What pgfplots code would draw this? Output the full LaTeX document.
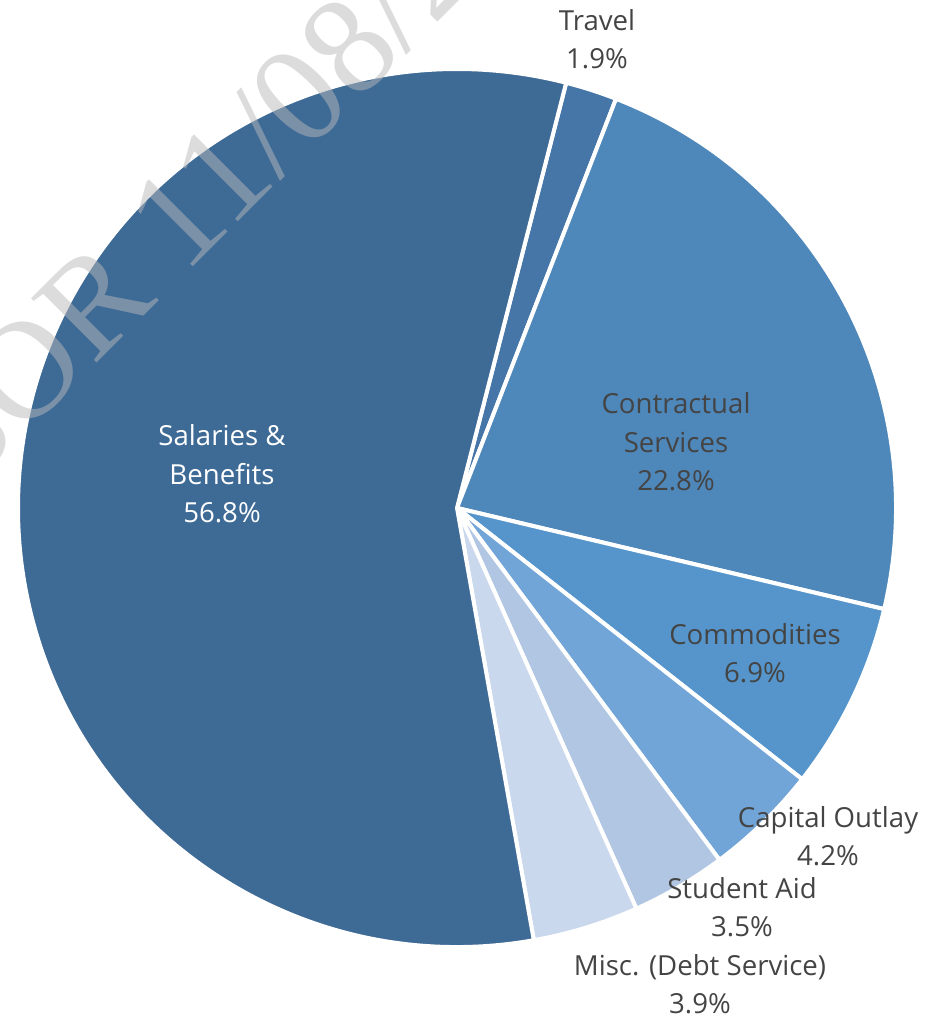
\documentclass[border=0pt]{standalone}
\usepackage{pgfplots}
\usepackage{pgfplotstable}
\pgfplotsset{compat=1.18}
\usepackage{fontspec}
\setmainfont{Open Sans}
\newfontfamily\wmfont{Liberation Serif}

\definecolor{cTravel}{HTML}{4676A7}
\definecolor{cContract}{HTML}{4E87BA}
\definecolor{cCommod}{HTML}{5595CB}
\definecolor{cCapital}{HTML}{72A5D7}
\definecolor{cStudent}{HTML}{B0C6E3}
\definecolor{cMisc}{HTML}{C9D8ED}
\definecolor{cSalary}{HTML}{3E6A96}
\definecolor{labelgray}{HTML}{444444}

% slices in clockwise order, starting from the Travel slice
\pgfplotstableread{
name      value color
Travel      1.9 cTravel
Contract   22.8 cContract
Commod      6.9 cCommod
Capital     4.2 cCapital
Student     3.5 cStudent
Misc        3.9 cMisc
Salaries   56.8 cSalary
}\piedata

\begin{document}
\begin{tikzpicture}
\useasboundingbox (0,0) rectangle (470pt,510.5pt);
\begin{axis}[
    at={(0,0)}, anchor=south west,
    width=470pt, height=510.5pt, scale only axis,
    xmin=0, xmax=940, ymin=0, ymax=1021,
    hide axis, clip=false,
]
\pgfplotsextra{
  \def\angstart{75.6}
  \pgfplotsforeachungrouped \i in {0,...,6}{
    \pgfplotstablegetelem{\i}{value}\of\piedata
    \let\val\pgfplotsretval
    \pgfplotstablegetelem{\i}{color}\of\piedata
    \let\col\pgfplotsretval
    \pgfmathsetmacro\angend{\angstart-3.6*\val}
    \fill[fill=\col, draw=white, line width=2pt, line join=round]
      (axis cs:457,513) -- ++(\angstart:219.5pt)
      arc[start angle=\angstart, end angle=\angend, radius=219.5pt] -- cycle;
    \global\let\angstart\angend
  }
}
\tikzset{lbl/.style={align=center, inner sep=0pt, text=labelgray,
  font=\fontsize{13.8}{19.25}\selectfont}}
\node[lbl] at (axis cs:597,982) {Travel\\1.9\%};
\node[lbl] at (axis cs:676,579) {Contractual\\Services\\22.8\%};
\node[lbl] at (axis cs:755,368) {Commodities\\6.9\%};
\node[lbl] at (axis cs:828,185) {Capital Outlay\\4.2\%};
\node[lbl] at (axis cs:742,114) {Student Aid\\3.5\%};
\node[lbl] at (axis cs:700,37) {Misc. (Debt Service)\\3.9\%};
\node[lbl, text=white] at (axis cs:222,547) {Salaries \&\\Benefits\\56.8\%};
\end{axis}
\begin{scope}
\clip (0,0) rectangle (470pt,510.5pt);
\node[rotate=45, anchor=base west, inner sep=0pt, text=black!27.5, opacity=0.5,
  font=\wmfont\fontsize{70}{70}\selectfont] at (-22.25pt,258.25pt) {BOR 11/08/2023};
\end{scope}
\end{tikzpicture}
\end{document}
